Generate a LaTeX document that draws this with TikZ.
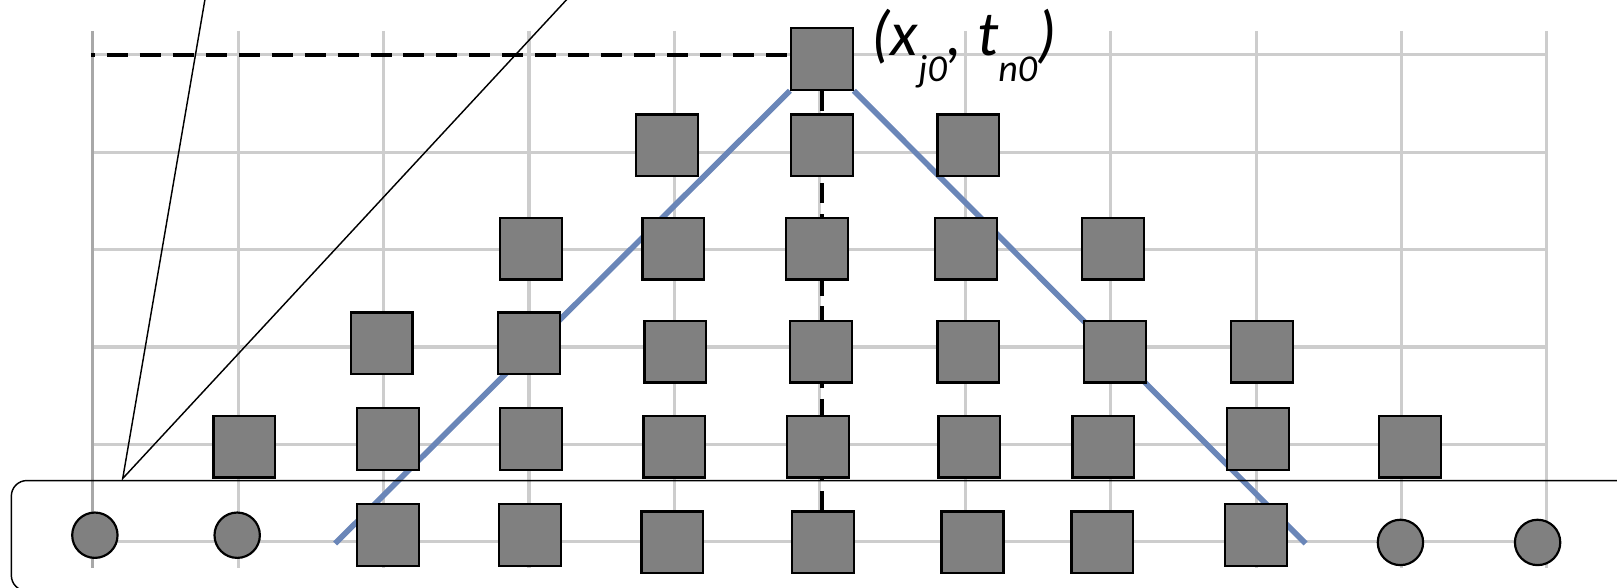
\documentclass[tikz,border=0pt]{standalone}
\usepackage{fontspec}
\newfontfamily\labfont{Carlito}
\definecolor{gridgray}{HTML}{CDCDCD}
\definecolor{axisgray}{HTML}{A8A8A8}
\definecolor{sqgray}{HTML}{808080}
\definecolor{lineblue}{HTML}{6A86B8}
\begin{document}
\begin{tikzpicture}[x=0.02cm,y=-0.02cm,
  gridline/.style={draw=gridgray, line width=1.7pt},
  axisline/.style={draw=axisgray, line width=1.7pt},
  sq/.style={rectangle, draw=black, fill=sqgray, line width=1.2pt, minimum size=1.2cm, inner sep=0pt},
  dot/.style={circle, draw=black, fill=sqgray, line width=1.2pt, minimum size=0.88cm, inner sep=0pt},
  blueline/.style={draw=lineblue, line width=3.1pt},
  hdash/.style={draw=black, line width=2.2pt, dash pattern=on 11.6pt off 6.6pt, dash phase=9.4pt},
  vdash/.style={draw=black, line width=1.9pt, dash pattern=on 11pt off 6pt},
  thinline/.style={draw=black, line width=0.8pt},
  labtext/.style={font=\labfont\itshape\fontsize{35}{38}\selectfont, inner sep=0pt, anchor=base west}
]
\useasboundingbox (0,0) rectangle (1568,570);
% grid
\foreach \y in {147.5,242,336.5,431,525.5} \draw[gridline] (90,\y) -- (1500,\y);
\draw[gridline] (90,53) -- (1500,53);
\foreach \x in {231,372,513,654,795,936,1077,1218,1359,1500} \draw[gridline] (\x,30) -- (\x,551);
\draw[axisline] (90,30) -- (90,551);
% coordinates
\coordinate (bl) at (325,527);
\coordinate (br) at (1266,527);
\coordinate (dl) at (88,53);
\coordinate (db) at (796,526);
\coordinate (apex) at (119,464);
\coordinate (wl) at (199,-2);
\coordinate (wr) at (551,-2);
% top square (needed for connectors)
\node[sq] (s00) at (797,57) {};
% blue lines
\draw[blueline] (bl) -- (s00.south west);
\draw[blueline] (s00.south east) -- (br);
% dashed lines
\draw[hdash] (dl) -- (dl -| s00.west);
\draw[vdash] (s00.south) -- (s00.south |- db);
% rounded box (runs past the right and bottom edges)
\draw[thinline, rounded corners=0.3cm] (11,466) rectangle (1584,573);
% squares
\foreach \n/\x/\y in {
  s11/647/141, s12/797/141, s13/939/141,
  s21/515/241, s22/653/241, s23/792/241, s24/937/241, s25/1079/241,
  s31/370/333, s32/513/333, s33/655/341, s34/796/341, s35/939/341, s36/1081/341, s37/1224/341,
  s41/237/433, s42/376/426, s43/515/426, s44/654/433, s45/793/433, s46/940/433, s47/1070/433, s48/1220/426, s49/1367/433,
  s51/376/519, s52/514/519, s53/652/526, s54/798/526, s55/943/526, s56/1069/526, s57/1218/519}
  \node[sq] (\n) at (\x,\y) {};
\node[sq] (s00b) at (797,57) {};
% circles
\node[dot] (c1) at (92,519) {};
\node[dot] (c2) at (230,519) {};
\node[dot] (c3) at (1358,526) {};
\node[dot] (c4) at (1491,526) {};
% callout wedge
\draw[thinline] (wl) -- (apex) -- (wr);
% label
\node[labtext] (lab) at (845,53.5) {(x\raisebox{-14.5pt}{\fontsize{21}{22}\selectfont j0}, t\raisebox{-14.5pt}{\fontsize{21}{22}\selectfont n0})};
\end{tikzpicture}
\end{document}
